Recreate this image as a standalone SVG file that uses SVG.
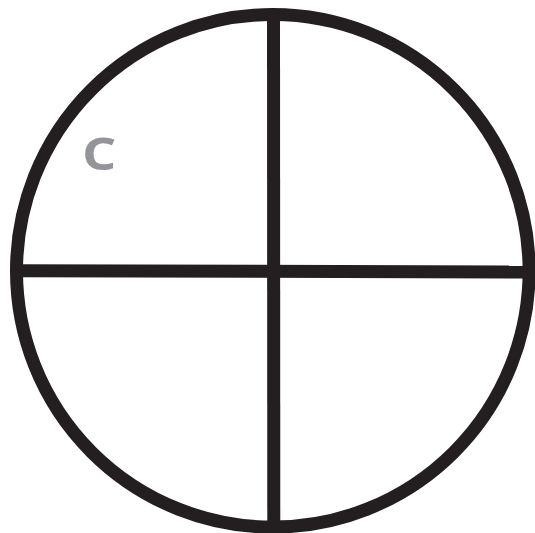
<svg xmlns="http://www.w3.org/2000/svg" width="535" height="533" viewBox="0 0 535 533">
<style>
.ln{fill:none;stroke:#231f20;stroke-width:13}
.lbl{font-family:"Open Sans","Liberation Sans",sans-serif;font-weight:700;font-size:45px;fill:#939598}
</style>
<rect width="535" height="533" fill="#fff"/>
<g id="circle">
<ellipse class="ln" cx="272.8" cy="270.8" rx="256.3" ry="256.3"/>
</g>
<g id="connectors">
<line class="ln" x1="273.5" y1="12" x2="273.8" y2="529"/>
<line class="ln" x1="14" y1="270.8" x2="531" y2="272"/>
</g>
<g id="label-c">
<text class="lbl" transform="translate(82 170) scale(1.2 1)" x="0" y="0">C</text>
</g>
</svg>
